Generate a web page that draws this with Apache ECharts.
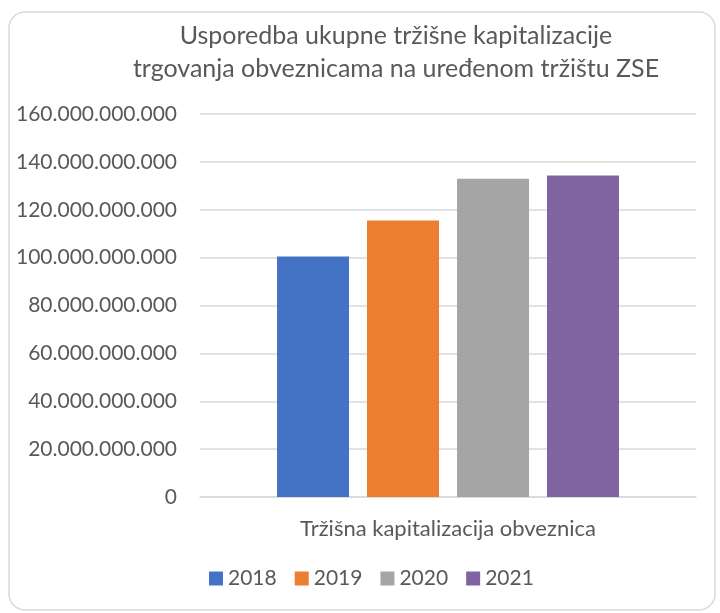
<!DOCTYPE html>
<html>
<head>
<meta charset="utf-8">
<script src="https://cdn.jsdelivr.net/npm/echarts@6/dist/echarts.min.js"></script>
<style>
  html, body { margin: 0; padding: 0; background: #fff; }
  #chart { width: 720px; height: 613px; }
</style>
</head>
<body>
<div id="chart"></div>
<script>
// podaci
const categories = ['Tržišna kapitalizacija obveznica'];
const years = ['2018', '2019', '2020', '2021'];
const values = [100500000000, 115500000000, 133000000000, 134300000000];
const colors = ['#4472c4', '#ed7d31', '#a5a5a5', '#8064a2'];

const titleText = 'Usporedba ukupne tržišne kapitalizacije\ntrgovanja obveznicama na uređenom tržištu ZSE';
const font = 'Lato';
const txtColor = '#595959';

// 160000000000 -> 160.000.000.000
function fmt(v) {
  return String(Math.round(v)).replace(/\B(?=(\d{3})+(?!\d))/g, '.');
}

const chart = echarts.init(document.getElementById('chart'));

const series = years.map((y, i) => ({
  name: y,
  type: 'bar',
  data: [values[i]],
  barWidth: 72,
  barGap: '25%',
  itemStyle: { color: colors[i] }
}));

chart.setOption({
  animation: false,
  textStyle: { fontFamily: font },
  graphic: [
    {
      type: 'rect',
      shape: { x: 9, y: 12, width: 706, height: 598, r: 16 },
      style: { fill: 'none', stroke: '#d9d9d9', lineWidth: 1.5 },
      z: -1
    },
    {
      type: 'text',
      x: 396,
      y: 19,
      style: {
        text: titleText,
        font: '25px ' + font,
        fill: txtColor,
        textAlign: 'center',
        lineHeight: 33
      }
    }
  ],
  legend: {
    data: years,
    left: 204,
    top: 563,
    itemWidth: 14,
    itemHeight: 14,
    itemGap: 18,
    icon: 'rect',
    textStyle: { fontSize: 21, color: txtColor, fontFamily: font }
  },
  grid: { left: 200, right: 24, top: 114, bottom: 116 },
  xAxis: {
    type: 'category',
    data: categories,
    axisTick: { show: false },
    axisLine: { lineStyle: { color: '#d9d9d9', width: 1.5 } },
    axisLabel: { color: txtColor, fontSize: 22, margin: 21, fontFamily: font }
  },
  yAxis: {
    type: 'value',
    min: 0,
    max: 160000000000,
    interval: 20000000000,
    axisLine: { show: false },
    axisTick: { show: false },
    axisLabel: {
      color: txtColor,
      fontSize: 21,
      margin: 23,
      fontFamily: font,
      formatter: fmt
    },
    splitLine: { lineStyle: { color: '#d9d9d9', width: 1.5 } }
  },
  series: series
});
</script>
</body>
</html>
